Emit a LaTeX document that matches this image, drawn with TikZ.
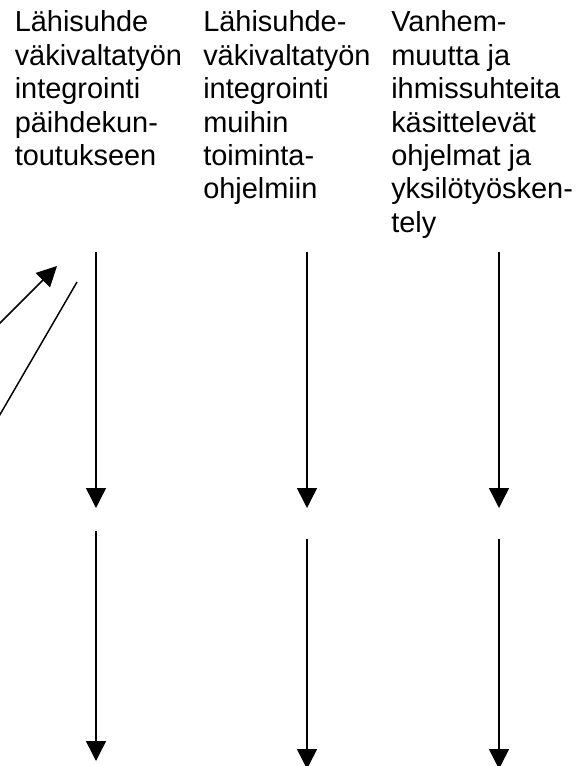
\documentclass[tikz,border=0pt]{standalone}
\usepackage{fontspec}
\setmainfont{Liberation Sans}
\usetikzlibrary{positioning, calc, arrows.meta}

\tikzset{
	coltext/.style={align=left, inner sep=0pt, anchor=base west, font=\fontsize{21.7pt}{25.05pt}\selectfont},
	flow/.style={-{Triangle[width=15pt, length=15pt]}, line width=1.1pt}
}

\begin{document}
\begin{tikzpicture}[x=0.75pt, y=-0.75pt]
\useasboundingbox (0,0) rectangle (579,766);
% base anchor sits on the last line
\node[coltext] (col 1) at (14.5, 165.6) {Lähisuhde\\väkivaltatyön\\integrointi\\päihdekun-\\toutukseen};
\node[coltext] (col 2) at (203, 199) {Lähisuhde-\\väkivaltatyön\\integrointi\\muihin\\toiminta-\\ohjelmiin};
\node[coltext] (col 3) at (391, 232.4) {Vanhem-\\muutta ja\\ihmissuhteita\\käsittelevät\\ohjelmat ja\\yksilötyösken-\\tely};
\foreach \c/\x in {1/96, 2/307, 3/499} {
	\coordinate (up \c-start) at (\x, 252);
	\coordinate (up \c-end) at (\x, 508);
	\draw[flow] (up \c-start) -- (up \c-end);
}
\foreach \c/\x/\ys/\ye in {1/96/531/761, 2/307/539/769, 3/499/539/769} {
	\coordinate (down \c-start) at (\x, \ys);
	\coordinate (down \c-end) at (\x, \ye);
	\draw[flow] (down \c-start) -- (down \c-end);
}
\coordinate (back in) at (-4, 327);
\coordinate (back in-end) at (57, 266);
\coordinate (back out) at (77, 282);
\coordinate (back out-end) at (-2, 418);
\draw[flow] (back in) -- (back in-end);
\draw[line width=1.1pt] (back out) -- (back out-end);
\end{tikzpicture}
\end{document}
